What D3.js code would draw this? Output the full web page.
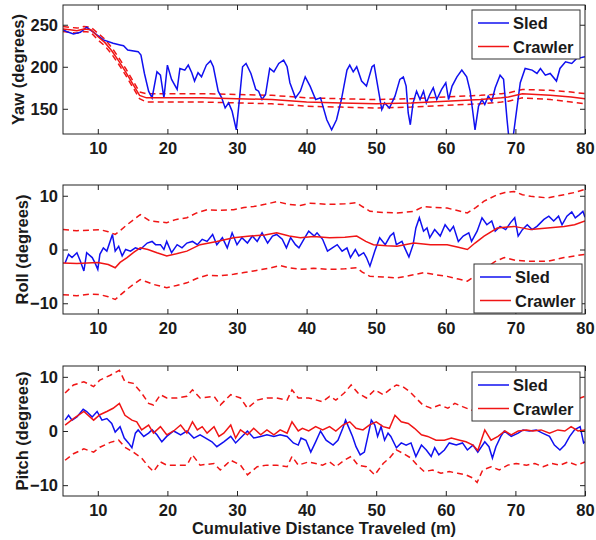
<!DOCTYPE html>
<html>
<head>
<meta charset="utf-8">
<script src="https://d3js.org/d3.v7.min.js"></script>
<style>
  body { margin: 0; background: #fff; }
  svg { display: block; font-family: "Liberation Sans", Arial, sans-serif; }
  .sled { fill: none; stroke: #1010f0; stroke-width: 1.5; }
  .crawler { fill: none; stroke: #f01515; stroke-width: 1.5; }
  .bound { fill: none; stroke: #f01515; stroke-width: 1.5; stroke-dasharray: 6,4; }
  text { font-weight: bold; font-size: 16.5px; fill: #1a1a1a; }
</style>
</head>
<body>
<svg id="canvas" width="596" height="540"></svg>
<script>
  // x ticks shared by all panels
  const xTicks = [10, 20, 30, 40, 50, 60, 70, 80];

  // --- Yaw (degrees) ---
  const yawTicks = [150, 200, 250];
  const yawSled = [[5,244],[5.5,242],[6.5,239],[7.5,241],[8.4,247],[9.4,241],[10.8,232],[12.2,228],[13.2,226],[13.7,225],[14.3,220],[15.8,218],[16.2,214],[16.7,192],[17.3,171],[17.8,163],[18.5,194],[19,190],[19.5,163],[20,202],[20.6,185],[21.4,173],[21.8,198],[22.5,196],[23,202],[23.5,193],[23.9,183],[24.4,193],[24.9,188],[25.6,202],[26.2,207],[26.6,200],[27.3,171],[27.8,163],[28.3,151],[28.8,157],[29.3,147],[29.9,125],[30.3,157],[30.8,200],[31.3,204],[32,192],[32.7,173],[33.1,171],[33.6,161],[34.1,167],[34.7,198],[35.3,194],[36,204],[36.7,208],[37.2,200],[37.6,181],[38.4,163],[39.1,171],[39.8,188],[40.5,177],[41.3,161],[42,163],[42.9,137],[43.6,125],[44.3,137],[45,161],[45.8,196],[46.2,202],[46.7,194],[47.2,200],[47.9,183],[48.6,177],[49.4,200],[49.7,202],[50.3,173],[50.8,149],[51.2,157],[51.9,151],[52.7,165],[53.4,185],[53.9,188],[54.3,177],[54.6,145],[54.9,131],[55.3,157],[55.8,171],[56.3,161],[56.8,171],[57.2,157],[57.7,167],[58.2,175],[58.7,161],[59.4,173],[60,181],[60.4,161],[60.9,177],[61.6,188],[62.3,196],[63,188],[63.5,171],[63.9,145],[64.2,125],[64.7,153],[65.2,161],[65.6,155],[66.1,165],[66.6,159],[67.1,175],[67.8,190],[68.3,185],[68.8,137],[69.1,112],[69.6,112],[70,137],[70.7,181],[71.4,198],[72.4,196],[73.1,192],[73.6,198],[74.3,190],[75,192],[75.9,183],[76.4,198],[77.2,206],[78.1,204],[78.8,210],[79.5,211],[80,212]];
  const yawCrawler = [[5,245],[6,244],[7,243],[8,245],[9,244],[10,236],[11,229],[12,219],[13,207],[14,194],[15,180],[16,166],[17,163],[20,163],[25,163],[30,162],[35,161],[40,158],[45,157],[50,156],[55,157],[60,159],[65,161],[68,163],[69,164],[71,168],[75,166],[78,164],[80,162]];
  const yawUpper = [[5,248],[6,247],[7,246],[8,248],[9,247],[10,240],[11,233],[12,223],[13,211],[14,198],[15,184],[16,170],[17,168],[20,168],[25,168],[30,167],[35,166],[40,163],[45,162],[50,161],[55,162],[60,164],[65,166],[68,168],[69,169],[71,173],[75,172],[78,170],[80,168]];
  const yawLower = [[5,242],[6,241],[7,240],[8,242],[9,241],[10,232],[11,225],[12,215],[13,203],[14,190],[15,176],[16,162],[17,158],[20,158],[25,158],[30,157],[35,156],[40,153],[45,152],[50,151],[55,152],[60,154],[65,156],[68,158],[69,159],[71,163],[75,161],[78,158],[80,156]];

  // --- Roll (degrees) ---
  const rollTicks = [-10, 0, 10];
  const rollSled = [[5.3,-2.5],[5.8,-0.9],[6.3,-1.5],[7,-0.6],[7.5,-2.2],[8,-4.0],[8.4,-0.6],[9.2,-1.5],[9.6,-2.5],[10,-3.7],[10.3,-0.9],[10.8,0.3],[11.3,-0.3],[12.1,2.8],[12.5,-0.3],[13,0.6],[13.5,-1.2],[14,0],[14.7,-0.3],[15.4,0.3],[16.1,0],[17.1,1.2],[17.8,1.5],[18.3,0.9],[19,0.9],[19.5,0],[19.9,1.5],[20.6,-0.6],[21.4,0.9],[22.1,0.3],[22.8,1.2],[23.6,1.5],[24.3,0.9],[25,1.9],[25.7,1.5],[26.5,2.8],[27.1,0.9],[27.9,2.2],[28.6,0.3],[29.3,3.1],[30,0.9],[30.7,2.2],[31.5,1.2],[32.2,2.5],[32.9,1.5],[33.6,3.1],[34.4,1.2],[35.1,2.5],[35.7,2.8],[36.5,1.9],[37.1,0.3],[37.7,2.2],[38.4,0.9],[38.9,0.3],[39.6,1.9],[40.3,3.4],[41.1,2.5],[41.5,3.1],[42.3,1.9],[43,-0.3],[43.7,0.3],[44.4,0.9],[45.1,-0.3],[45.8,0.3],[46.3,-1.5],[47,0],[47.5,-1.2],[48.2,-0.6],[48.6,-1.5],[49.1,-3.1],[49.8,-0.3],[50.5,2.2],[51.3,0.9],[52,2.5],[52.5,3.1],[52.9,0.9],[53.7,1.5],[54.1,0.3],[54.7,-1.4],[55.3,0.9],[55.7,4.0],[56.2,5.9],[56.8,3.4],[57.3,4.0],[57.7,2.2],[58.4,3.7],[59.2,2.5],[59.9,4.6],[60.6,3.4],[61.1,4.3],[61.8,1.5],[62.5,2.5],[63.3,3.1],[63.7,1.5],[64.5,3.4],[65.2,5.9],[65.9,4.6],[66.6,5.3],[67.1,3.4],[67.8,4.3],[68.6,3.7],[69.3,5.0],[69.9,5.9],[70.4,2.5],[71,3.7],[71.7,4.6],[72.4,3.7],[73.1,4.3],[74.1,5.6],[74.8,6.2],[75.5,5.3],[76.2,6.2],[76.7,4.6],[77.4,6.2],[78.1,7.0],[78.6,5.9],[79.2,6.5],[79.7,7.1],[80,6.0]];
  const rollCrawler = [[5,-2.5],[7,-2.6],[10,-2.4],[11.5,-2.8],[12.5,-3.4],[13.2,-2.4],[14.2,-1.5],[15.2,-0.5],[16.1,0.3],[17.2,0.0],[18.5,-0.6],[19.9,-1.2],[21.3,-0.8],[22.8,-0.3],[24.7,0.9],[27.1,1.5],[29.5,2.2],[31.9,2.5],[34,2.7],[35.7,3.1],[37.5,2.5],[39.1,2.2],[41,2.4],[43.3,2.2],[45.5,2.3],[47.2,2.5],[48.5,1.5],[49.6,0.9],[51.5,0.7],[53,0.6],[55.4,1.2],[57.8,0.9],[60.2,0.9],[61.8,0.4],[63.1,0],[64.2,1.2],[65.5,2.5],[67.4,4.0],[69.8,4.3],[72.2,3.7],[74.6,4.0],[77,4.3],[78.5,4.6],[80,5.3]];
  const rollUpper = [[5,3.7],[7,3.5],[9,3.6],[10.3,3.7],[11.5,3.3],[12.5,2.8],[13.3,3.6],[14.2,4.6],[15.2,5.6],[16.1,6.5],[17.5,5.3],[19.9,5.0],[21.3,5.6],[22.8,5.9],[24.2,6.8],[25.7,7.4],[27.5,7.3],[29.5,7.4],[31,7.8],[32.4,8.0],[34,8.4],[35.7,8.9],[37.5,8.4],[39.1,8.2],[40.5,8.6],[43.3,8.4],[45.5,8.5],[47.2,8.7],[48,8.0],[49.1,7.1],[51,6.9],[53,6.8],[55.4,7.1],[56.8,8.0],[58.5,7.8],[60.2,7.7],[61.8,7.2],[63.1,6.8],[64.3,7.8],[65.5,9.0],[67.4,10.2],[68.5,10.6],[69.8,10.8],[71,10.2],[72.2,9.9],[74.6,9.6],[77,10.2],[78.5,10.6],[80,11.2]];
  const rollLower = [[5,-8.4],[7,-8.6],[9,-8.3],[10.3,-8.4],[11.5,-8.8],[12.5,-9.3],[13.3,-8.4],[14.2,-7.4],[15.2,-6.4],[16.1,-5.6],[17,-6.0],[18,-6.5],[19.9,-7.1],[21.3,-6.7],[22.8,-6.2],[24.2,-5.4],[25.7,-4.8],[27.5,-4.9],[29.5,-4.6],[31,-4.3],[32.4,-4.0],[34.5,-3.5],[36.2,-3.0],[37.5,-3.4],[39.1,-3.7],[41,-3.5],[43.3,-3.7],[45.5,-3.6],[47.2,-3.4],[48,-4.2],[49.1,-5.0],[51,-5.1],[53,-5.3],[55,-4.8],[56.8,-4.3],[58.5,-4.7],[60.2,-5.0],[61.8,-5.5],[63.1,-5.9],[64.3,-4.8],[65.5,-3.7],[67,-2.3],[68.4,-1.5],[70,-2.0],[72.2,-2.2],[74.6,-2.2],[77,-1.5],[78.5,-1.2],[80,-0.9]];

  // --- Pitch (degrees) ---
  const pitchTicks = [-10, 0, 10];
  const pitchSled = [[5.3,2.0],[5.8,2.9],[6.3,2.0],[7,2.6],[7.9,4.0],[8.4,3.6],[9.2,2.6],[9.9,3.6],[10.6,2.0],[11.3,2.3],[12,1.4],[12.5,-0.2],[13.2,0.8],[13.8,-1.3],[14.4,-2.2],[14.9,-3.1],[15.4,-0.4],[15.8,0.2],[16.6,-1.0],[17.3,-0.4],[17.8,0.2],[18.5,-0.7],[19.2,-2.0],[19.9,-1.0],[20.9,0.0],[21.9,-0.7],[22.8,0.0],[23.8,-1.3],[24.7,-0.7],[25.5,-1.3],[26.4,-2.0],[27.1,-2.9],[28.1,-2.0],[29.1,-1.0],[29.8,-2.2],[30.5,-1.3],[31.5,0.0],[32.4,-1.3],[33.4,-1.0],[34.3,-0.7],[35.3,-1.0],[36.2,-0.7],[37.2,-1.0],[38.1,-2.2],[38.8,-2.6],[39.2,-1.3],[39.9,-1.7],[40.6,-3.9],[41.3,-2.0],[42,0.0],[42.8,-1.7],[43.8,-2.6],[44.5,-1.7],[45.2,0.5],[45.6,2.0],[46.2,0.2],[46.6,-1.0],[47.1,-2.9],[47.7,-4.4],[48.3,-3.9],[48.8,-1.0],[49.3,2.0],[49.8,1.1],[50.2,-1.0],[50.7,0.8],[51.2,-1.7],[51.7,-0.4],[52.1,-1.0],[52.9,-3.1],[53.6,-2.2],[54.3,-2.6],[55,-2.2],[55.7,-4.7],[56.5,-2.6],[57.2,-3.5],[57.9,-4.7],[58.4,-3.1],[59,-4.4],[59.8,-3.5],[60.5,-2.2],[61.5,-2.6],[62.4,-2.2],[63.1,-3.5],[63.9,-2.6],[64.6,-3.9],[65.6,-2.0],[66.2,-2.9],[66.7,-5.0],[67.2,-2.9],[67.9,-1.0],[68.4,0.0],[69.4,-1.0],[70.4,-0.4],[71.1,0.2],[72,0.0],[73,0.2],[73.9,-0.4],[74.9,-1.0],[75.6,-2.6],[76.4,-3.5],[77.1,-2.6],[77.8,-1.0],[78.5,0.2],[79.3,0.8],[79.8,-2.2],[80,-2.0]];
  const pitchCrawler = [[5.3,1.1],[6.5,2.3],[8,3.6],[9.4,2.0],[10.3,3.0],[11.3,3.6],[12.2,4.2],[13.1,5.1],[13.9,2.9],[14.9,2.0],[15.6,1.7],[16.3,0.2],[17.3,1.1],[18,-0.4],[19,0.8],[19.9,-0.7],[20.9,0.0],[21.9,1.1],[22.8,-0.4],[23.6,1.7],[24.3,0.2],[25,0.8],[25.7,-0.4],[26.7,0.8],[27.4,-1.0],[28.1,-0.4],[29.1,1.1],[29.8,-1.3],[30.5,0.2],[31.5,-0.7],[32.4,0.5],[33.4,-0.7],[34.3,0.2],[35.3,-0.7],[36.2,0.2],[37.2,-0.4],[37.9,1.7],[38.8,0.0],[39.4,0.5],[40.3,0.0],[41.3,0.8],[42.3,0.2],[43.3,0.8],[44.2,0.0],[45.2,1.1],[46.2,1.7],[47.1,0.5],[48.1,0.2],[49,1.1],[50,1.7],[51,0.8],[51.9,0.5],[52.7,2.9],[53.6,1.7],[54.6,1.4],[55.5,0.5],[56.5,-0.7],[57.4,-1.0],[58.6,-1.7],[59.8,-1.7],[60.8,-1.3],[62,-1.7],[62.9,-2.0],[63.9,-2.6],[64.6,-3.6],[65.6,0.2],[66.5,-1.7],[67.5,-1.0],[68.5,0.0],[69.4,-0.7],[70.4,0.0],[71.6,0.2],[72.5,0.0],[73.7,0.2],[74.9,-0.4],[76.1,0.2],[77.1,0.0],[78,0.8],[79,0.0],[80,0.2]];
  const pitchUpper = [[5.3,7.0],[6.5,8.5],[8,9.1],[9.4,8.2],[10.3,9.4],[11.8,10.3],[13.1,11.2],[13.9,9.1],[15.1,8.8],[16.3,7.0],[17.3,5.1],[18,4.8],[19,6.7],[19.9,6.1],[21.4,6.1],[22.8,6.4],[23.6,7.6],[24.7,6.1],[26.7,6.4],[27.6,4.8],[29.1,6.7],[30.5,6.1],[31.5,4.2],[32.9,5.7],[34.3,6.1],[35.7,6.1],[37.2,5.7],[37.9,7.6],[38.8,6.1],[40.3,6.1],[42.3,5.4],[43.3,6.4],[44.2,5.7],[45.4,7.0],[46.4,8.5],[47.4,7.0],[48.6,6.1],[49.8,7.6],[51,6.7],[51.9,7.6],[52.9,8.5],[53.8,8.2],[54.8,7.3],[55.7,6.1],[56.7,4.8],[57.9,4.2],[59.1,4.8],[60.3,4.2],[61.3,5.1],[62.4,4.5],[63.6,3.9],[64.4,3.6],[65.3,5.7],[66.5,4.5],[67.7,4.8],[68.7,5.7],[69.9,5.1],[72,5.6],[74,5.3],[76,5.8],[78,5.5],[80,6.4]];
  const pitchLower = [[5.3,-5.4],[6.5,-4.2],[8,-3.3],[9.4,-3.9],[10.3,-3.0],[11.8,-2.1],[13,-1.7],[13.9,-3.0],[15.1,-3.9],[16.3,-5.0],[17.3,-6.6],[18,-7.5],[19,-5.7],[19.9,-6.3],[21.4,-6.3],[22.8,-6.3],[23.6,-4.4],[24.7,-6.3],[26.7,-6.0],[27.6,-7.2],[29.1,-5.4],[30.5,-6.3],[31.5,-8.1],[32.9,-6.6],[34.3,-6.3],[35.7,-6.3],[37.2,-6.6],[37.9,-4.7],[38.8,-6.3],[40.3,-5.7],[42.3,-6.3],[43.3,-5.7],[44.2,-6.6],[45.4,-5.4],[46.4,-4.7],[47.4,-6.3],[48.6,-6.6],[49.8,-8.1],[51,-6.0],[51.9,-5.0],[52.9,-3.5],[53.8,-4.1],[55,-5.0],[55.9,-6.3],[56.9,-7.5],[58.1,-7.2],[59.3,-7.8],[60.5,-7.5],[61.7,-7.8],[62.9,-8.1],[63.9,-8.7],[64.5,-9.5],[65.3,-7.2],[66.5,-6.6],[67.7,-7.2],[68.9,-6.3],[70.1,-6.0],[71.6,-6.3],[72.8,-6.0],[74,-6.6],[75.2,-6.0],[76.4,-6.3],[77.6,-5.7],[78.8,-6.3],[80,-5.7]];

  const svg = d3.select("svg");
  const left = 63, right = 585;
  const x = d3.scaleLinear().domain([5, 80]).range([left, right]);

  const panels = [
    { name: "yaw", label: "Yaw (degrees)", top: 5, bottom: 134, domain: [120, 273.5], ticks: yawTicks,
      sled: yawSled, crawler: yawCrawler, upper: yawUpper, lower: yawLower, labelX: 24, legend: [472, 10] },
    { name: "roll", label: "Roll (degrees)", top: 185, bottom: 314, domain: [-12, 12], ticks: rollTicks,
      sled: rollSled, crawler: rollCrawler, upper: rollUpper, lower: rollLower, labelX: 28, legend: [474, 264] },
    { name: "pitch", label: "Pitch (degrees)", top: 366, bottom: 496, domain: [-12, 12], ticks: pitchTicks,
      sled: pitchSled, crawler: pitchCrawler, upper: pitchUpper, lower: pitchLower, labelX: 28, legend: [472, 372] }
  ];

  panels.forEach(drawPanel);

  svg.append("text")
    .attr("x", (left + right) / 2)
    .attr("y", 534)
    .attr("text-anchor", "middle")
    .text("Cumulative Distance Traveled (m)");

  function drawPanel(p) {
    const y = d3.scaleLinear().domain(p.domain).range([p.bottom, p.top]);
    const g = svg.append("g");

    g.append("clipPath").attr("id", "clip-" + p.name)
      .append("rect")
        .attr("x", left).attr("y", p.top)
        .attr("width", right - left).attr("height", p.bottom - p.top);

    const line = d3.line().x(d => x(d[0])).y(d => y(d[1]));
    const plot = g.append("g").attr("clip-path", `url(#clip-${p.name})`);
    plot.append("path").attr("class", "bound").attr("d", line(p.upper));
    plot.append("path").attr("class", "bound").attr("d", line(p.lower));
    plot.append("path").attr("class", "sled").attr("d", line(p.sled));
    plot.append("path").attr("class", "crawler").attr("d", line(p.crawler));

    // axes: inward ticks on all four sides (box on)
    g.append("g").attr("transform", `translate(0,${p.bottom})`)
      .call(d3.axisBottom(x).tickValues(xTicks).tickSizeInner(-5).tickSizeOuter(0).tickPadding(8))
      .call(styleAxis);
    g.append("g").attr("transform", `translate(0,${p.top})`)
      .call(d3.axisTop(x).tickValues(xTicks).tickSizeInner(-5).tickSizeOuter(0).tickFormat(""))
      .call(styleAxis);
    g.append("g").attr("transform", `translate(${left},0)`)
      .call(d3.axisLeft(y).tickValues(p.ticks).tickSizeInner(-5).tickSizeOuter(0).tickPadding(5))
      .call(styleAxis);
    g.append("g").attr("transform", `translate(${right},0)`)
      .call(d3.axisRight(y).tickValues(p.ticks).tickSizeInner(-5).tickSizeOuter(0).tickFormat(""))
      .call(styleAxis);

    g.append("rect")
      .attr("x", left).attr("y", p.top)
      .attr("width", right - left).attr("height", p.bottom - p.top)
      .attr("fill", "none").attr("stroke", "#222").attr("stroke-width", 1);

    g.append("text")
      .attr("transform", `translate(${p.labelX},${(p.top + p.bottom) / 2}) rotate(-90)`)
      .attr("text-anchor", "middle")
      .text(p.label);

    // legend
    const [lx, ly] = p.legend;
    const lg = g.append("g").attr("transform", `translate(${lx},${ly})`);
    lg.append("rect").attr("width", 108).attr("height", 49)
      .attr("fill", "#fff").attr("stroke", "#333").attr("stroke-width", 1);
    [["Sled", "sled", 13], ["Crawler", "crawler", 36.5]].forEach(([name, cls, ry]) => {
      lg.append("line").attr("class", cls).attr("x1", 6).attr("x2", 37).attr("y1", ry).attr("y2", ry);
      lg.append("text").attr("x", 41).attr("y", ry + 6).text(name);
    });
  }

  function styleAxis(sel) {
    sel.select(".domain").remove();
    sel.selectAll(".tick line").attr("stroke", "#222");
    sel.selectAll(".tick text")
      .attr("font-family", "Liberation Sans, Arial, sans-serif")
      .attr("font-size", 16).attr("font-weight", "bold").attr("fill", "#1a1a1a");
  }
</script>
</body>
</html>
